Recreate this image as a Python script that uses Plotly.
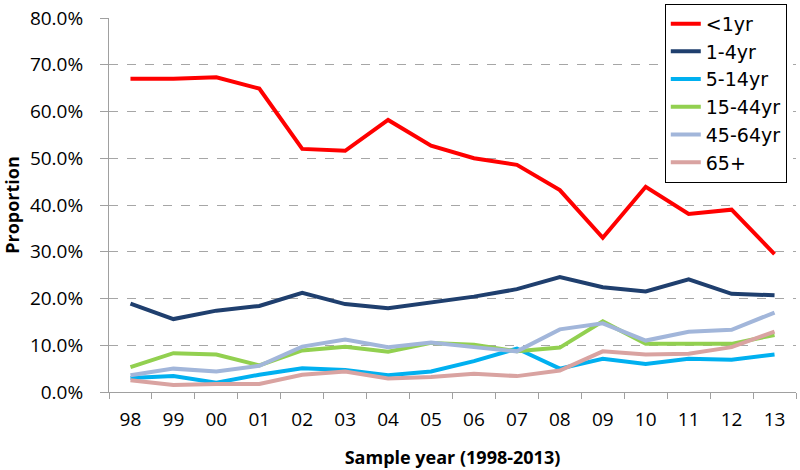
import plotly.graph_objects as go

years = ["98", "99", "00", "01", "02", "03", "04", "05", "06", "07", "08", "09", "10", "11", "12", "13"]

lt1 = [67.0, 67.0, 67.3, 64.9, 52.0, 51.6, 58.2, 52.7, 50.0, 48.6, 43.2, 33.0, 43.9, 38.1, 39.0, 29.5]
y1_4 = [18.9, 15.6, 17.4, 18.4, 21.2, 18.8, 17.9, 19.2, 20.4, 22.0, 24.6, 22.4, 21.5, 24.1, 21.0, 20.7]
y5_14 = [3.0, 3.4, 2.0, 3.7, 5.1, 4.7, 3.6, 4.4, 6.6, 9.3, 5.0, 7.1, 6.0, 7.1, 6.9, 8.0]
y15_44 = [5.3, 8.3, 8.0, 5.7, 8.9, 9.7, 8.6, 10.5, 10.1, 8.7, 9.5, 15.1, 10.3, 10.3, 10.3, 12.2]
y45_64 = [3.6, 5.0, 4.4, 5.6, 9.7, 11.2, 9.6, 10.6, 9.6, 8.7, 13.4, 14.7, 11.0, 12.9, 13.3, 17.0]
y65p = [2.5, 1.5, 1.7, 1.7, 3.7, 4.4, 2.9, 3.2, 3.9, 3.4, 4.6, 8.7, 8.0, 8.2, 9.6, 12.9]

series_names = ["<1yr", "1-4yr", "5-14yr", "15-44yr", "45-64yr", "65+"]
series_vals = [lt1, y1_4, y5_14, y15_44, y45_64, y65p]
colors = ["#FF0000", "#1F3F6E", "#00B0F0", "#92D050", "#A2B6DA", "#D9A3A1"]

yticks = [0, 10, 20, 30, 40, 50, 60, 70, 80]
ytick_labels = ["0.0%", "10.0%", "20.0%", "30.0%", "40.0%", "50.0%", "60.0%", "70.0%", "80.0%"]

fig = go.Figure()
for name, vals, col in zip(series_names, series_vals, colors):
    fig.add_trace(go.Scatter(x=years, y=vals, name=name, mode="lines",
                             line=dict(color=col, width=4)))

font_family = "'Open Sans', Lato, sans-serif"

fig.update_layout(
    width=800, height=470,
    margin=dict(l=109, r=4, t=16, b=78),
    plot_bgcolor="white", paper_bgcolor="white",
    font=dict(family=font_family, size=18, color="#000000"),
    showlegend=True,
    legend=dict(x=0.809, y=1.038, xanchor="left", yanchor="top",
                bordercolor="#000000", borderwidth=1, bgcolor="white",
                font=dict(family="'DejaVu Sans', sans-serif", size=19), tracegroupgap=0),
    xaxis=dict(
        type="category", tickson="boundaries", ticks="outside", ticklen=6,
        range=[-0.5, 15.5], automargin=False,
        tickcolor="#A0A0A0", showline=True, linecolor="#A0A0A0", linewidth=1,
        showgrid=False, ticklabelstandoff=10,
        title=dict(text="<b>Sample year (1998-2013)</b>", font=dict(size=18), standoff=20),
        tickfont=dict(size=19),
    ),
    yaxis=dict(
        range=[0, 80], tickvals=yticks, ticktext=ytick_labels,
        ticks="outside", ticklen=8, tickcolor="#A0A0A0", automargin=False,
        showline=True, linecolor="#A0A0A0", linewidth=1,
        showgrid=True, gridcolor="#A6A6A6", gridwidth=1, griddash="dash",
        zeroline=False, ticklabelstandoff=13,
        title=dict(text="<b>Proportion</b>", font=dict(size=18), standoff=13),
        tickfont=dict(size=19),
    ),
)

fig.write_html("out.html", config={"displayModeBar": False},
               post_script="document.body.style.margin='0px';")
